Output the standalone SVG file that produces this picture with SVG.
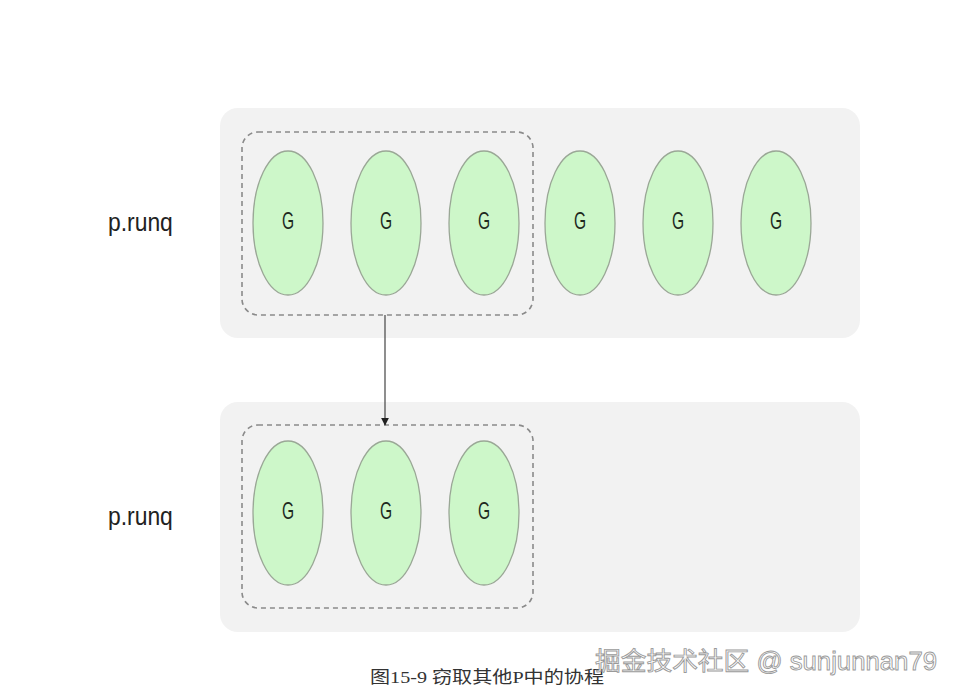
<svg xmlns="http://www.w3.org/2000/svg" width="957" height="696" viewBox="0 0 957 696">
<style>
.panel{fill:#f2f2f2;}
.sel{fill:none;stroke:#8a8a8a;stroke-width:1.6;stroke-dasharray:5,4;}
.g ellipse{fill:#cdf7c9;stroke:#9aa796;stroke-width:1.3;}
.g text{font-family:"Liberation Sans",Arial,sans-serif;font-size:24px;fill:#1e2a1e;text-anchor:middle;}
.lbl{font-family:"Liberation Sans",Arial,sans-serif;font-size:26px;fill:#222;}
.cap{font-family:"Liberation Serif","Noto Sans CJK SC",serif;font-size:17px;fill:#333;}
.wm{font-family:"Liberation Sans","Noto Sans CJK SC",sans-serif;font-size:25px;fill:#ffffff;stroke:#9a9a9a;stroke-width:0.9;}
</style>
<defs>
<marker id="ah" viewBox="0 0 10 10" refX="9" refY="5" markerWidth="8" markerHeight="8" orient="auto" markerUnits="userSpaceOnUse">
<path d="M0,0 L10,5 L0,10 z" fill="#222"/>
</marker>
</defs>
<rect width="957" height="696" fill="#ffffff"/>
<g id="panel-top">
<rect class="panel" x="220" y="108" width="640" height="230" rx="18"/>
<text class="lbl" transform="translate(108,231) scale(0.88,1)">p.runq</text>
<rect class="sel" x="242" y="132" width="291" height="183" rx="16"/>
</g>
<g id="panel-bottom">
<rect class="panel" x="220" y="402" width="640" height="230" rx="18"/>
<text class="lbl" transform="translate(108,525) scale(0.88,1)">p.runq</text>
<rect class="sel" x="242" y="425" width="291" height="183" rx="16"/>
</g>
<g id="g1" class="g"><ellipse cx="288" cy="223" rx="35" ry="72"/><text transform="translate(288,229) scale(0.65,1)">G</text></g>
<g id="g2" class="g"><ellipse cx="386" cy="223" rx="35" ry="72"/><text transform="translate(386,229) scale(0.65,1)">G</text></g>
<g id="g3" class="g"><ellipse cx="484" cy="223" rx="35" ry="72"/><text transform="translate(484,229) scale(0.65,1)">G</text></g>
<g id="g4" class="g"><ellipse cx="580" cy="223" rx="35" ry="72"/><text transform="translate(580,229) scale(0.65,1)">G</text></g>
<g id="g5" class="g"><ellipse cx="678" cy="223" rx="35" ry="72"/><text transform="translate(678,229) scale(0.65,1)">G</text></g>
<g id="g6" class="g"><ellipse cx="776" cy="223" rx="35" ry="72"/><text transform="translate(776,229) scale(0.65,1)">G</text></g>
<g id="g7" class="g"><ellipse cx="288" cy="513" rx="35" ry="72"/><text transform="translate(288,519) scale(0.65,1)">G</text></g>
<g id="g8" class="g"><ellipse cx="386" cy="513" rx="35" ry="72"/><text transform="translate(386,519) scale(0.65,1)">G</text></g>
<g id="g9" class="g"><ellipse cx="484" cy="513" rx="35" ry="72"/><text transform="translate(484,519) scale(0.65,1)">G</text></g>
<g id="connectors">
<line x1="385" y1="315" x2="385" y2="425" stroke="#444" stroke-width="1.2" marker-end="url(#ah)"/>
</g>
<text class="cap" x="370" y="683" textLength="234" lengthAdjust="spacingAndGlyphs">图15-9 窃取其他P中的协程</text>
<text class="wm" x="595" y="670" textLength="342" lengthAdjust="spacingAndGlyphs">掘金技术社区 @ sunjunnan79</text>
</svg>
